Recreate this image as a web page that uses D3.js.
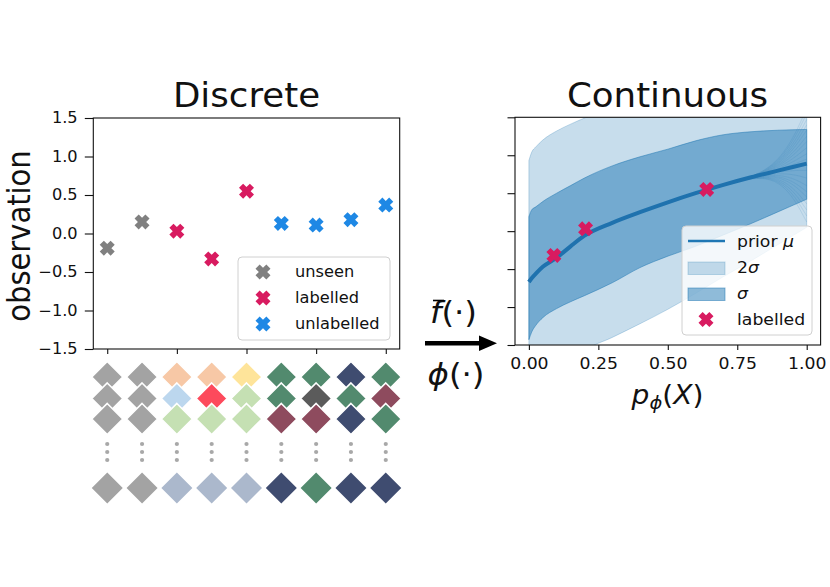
<!DOCTYPE html>
<html>
<head>
<meta charset="utf-8">
<script src="https://cdn.jsdelivr.net/npm/d3@7"></script>
<style>
  body { margin: 0; background: #fff; }
  text { font-family: 'DejaVu Sans', sans-serif; fill: #111; }
</style>
</head>
<body>
<script>
// ---------- data ----------
const categories = [0, 1, 2, 3, 4, 5, 6, 7, 8];
const observations = [-0.19, 0.15, 0.03, -0.33, 0.55, 0.13, 0.11, 0.18, 0.37];
const groups = ['unseen', 'unseen', 'labelled', 'labelled', 'labelled',
  'unlabelled', 'unlabelled', 'unlabelled', 'unlabelled'];
const groupNames = ['unseen', 'labelled', 'unlabelled'];
const groupColors = { unseen: '#808080', labelled: '#d81b60', unlabelled: '#1e88e5' };
const yTicks = [-1.5, -1.0, -0.5, 0.0, 0.5, 1.0, 1.5];
const xTicksLeft = [0, 2, 4, 6, 8];

// molecule "diamond" stacks under each category
const diamondRow1 = ['#a3a3a3', '#a3a3a3', '#f7c8a6', '#f7c8a6', '#fee49a', '#528a6e', '#528a6e', '#3f4c70', '#528a6e'];
const diamondRow2 = ['#a3a3a3', '#a3a3a3', '#bcd7ee', '#fd4a5c', '#c5e0b3', '#528a6e', '#5b5b5b', '#528a6e', '#8e4b5e'];
const diamondRow3 = ['#a3a3a3', '#a3a3a3', '#c5e0b3', '#c5e0b3', '#c5e0b3', '#8e4b5e', '#8e4b5e', '#3f4c70', '#528a6e'];
const diamondLast = ['#a3a3a3', '#a3a3a3', '#abb8cc', '#abb8cc', '#abb8cc', '#3f4c70', '#528a6e', '#3f4c70', '#3f4c70'];

// continuous panel
const px = [0, 0.01, 0.025, 0.05, 0.1, 0.15, 0.2, 0.3, 0.4, 0.5, 0.6, 0.7, 0.8, 0.9, 1.0];
const priorMean = [-0.67, -0.62, -0.56, -0.47, -0.35, -0.2, -0.06, 0.11, 0.25, 0.38, 0.5, 0.61, 0.71, 0.8, 0.89];
const sigmaUpper = [0.19, 0.28, 0.32, 0.39, 0.5, 0.6, 0.7, 0.86, 0.98, 1.08, 1.19, 1.27, 1.31, 1.33, 1.34];
const sigmaLower = [-1.43, -1.33, -1.24, -1.14, -1.02, -0.93, -0.85, -0.68, -0.48, -0.33, -0.2, -0.05, 0.1, 0.26, 0.42];
const twoSigmaUpper = [0.93, 1.04, 1.11, 1.2, 1.32, 1.41, 1.49, 1.62, 1.71, 1.8, 1.86, 1.9, 1.94, 1.97, 2.0];
const twoSigmaLower = [-2.3, -2.26, -2.2, -2.1, -1.9, -1.75, -1.58, -1.4, -1.22, -1.03, -0.82, -0.6, -0.39, -0.17, 0.05];
const labelledX = [0.09, 0.204, 0.64];
const labelledY = [-0.32, 0.03, 0.55];
const fanEnds = [1.62, 1.55, 1.47, 1.4, 1.33, 1.25, 1.18, 1.1, 1.02, 0.95, 0.8, 0.7, 0.6, 0.52, 0.45, 0.36, 0.28, 0.2, 0.12];
const xTicksRight = [0, 0.25, 0.5, 0.75, 1.0];

const SX = 1.08; // reference is a little stretched sideways
const blue = '#1f77b4';

const svg = d3.select('body').append('svg').attr('width', 830).attr('height', 587);

function label(g, x, y, size, anchor) {
  return g.append('text')
    .attr('transform', `translate(${x},${y}) scale(${SX},1)`)
    .attr('text-anchor', anchor)
    .style('font-size', size + 'px');
}

// filled "X" marker like matplotlib's
function xMarker(r) {
  const L = r * Math.SQRT2 / 1.38, a = 0.38 * L;
  const pts = [[a, L], [a, a], [L, a], [L, -a], [a, -a], [a, -L], [-a, -L], [-a, -a], [-L, -a], [-L, a], [-a, a], [-a, L]];
  return 'M' + pts.map(([x, y]) => [(x - y) / Math.SQRT2, (x + y) / Math.SQRT2].join(',')).join('L') + 'Z';
}
const mk = xMarker(7.5);

////////////////////////
///// LEFT PANEL ///////
////////////////////////

const xL = d3.scaleLinear().domain([-0.4, 8.4]).range([93.3, 399.7]);
const yL = d3.scaleLinear().domain([-1.5, 1.5]).range([349, 118]);

const left = svg.append('g');

left.append('g')
  .attr('transform', `translate(${xL.range()[0]},0)`)
  .call(d3.axisLeft(yL).tickValues(yTicks).tickSize(8.5).tickPadding(6).tickFormat(d3.format('.1f')))
  .call(g => g.select('.domain').remove())
  .call(g => g.selectAll('line').attr('stroke', '#111').attr('stroke-width', 1.1))
  .call(g => g.selectAll('text').attr('font-family', null).style('font-size', '15px')
    .attr('transform', `scale(${SX},1)`));

left.append('g')
  .attr('transform', `translate(0,${yL.range()[0]})`)
  .call(d3.axisBottom(xL).tickValues(xTicksLeft).tickSize(5).tickFormat(''))
  .call(g => g.select('.domain').remove())
  .call(g => g.selectAll('line').attr('stroke', '#111').attr('stroke-width', 1.1));

left.append('rect')
  .attr('x', xL.range()[0]).attr('y', yL.range()[1])
  .attr('width', xL.range()[1] - xL.range()[0]).attr('height', yL.range()[0] - yL.range()[1])
  .attr('fill', 'none').attr('stroke', '#111').attr('stroke-width', 1.1);

left.selectAll('path.obs')
  .data(categories)
  .enter()
  .append('path')
  .attr('class', 'obs')
  .attr('d', mk)
  .attr('transform', (i) => `translate(${xL(i)},${yL(observations[i])})`)
  .attr('fill', (i) => groupColors[groups[i]]);

// legend
left.append('rect')
  .attr('x', 238).attr('y', 257).attr('width', 152).attr('height', 83)
  .attr('rx', 4).attr('fill', '#fff').attr('fill-opacity', 0.8)
  .attr('stroke', '#d0d0d0');
groupNames.forEach((name, i) => {
  const yy = 272 + i * 26;
  left.append('path').attr('d', mk).attr('transform', `translate(263,${yy})`)
    .attr('fill', groupColors[name]);
  label(left, 295, yy + 5, 15, 'start').text(name);
});

label(left, 246.5, 107, 33, 'middle').text('Discrete');

left.append('text')
  .attr('transform', `translate(30,236) scale(${SX},1) rotate(-90)`)
  .attr('text-anchor', 'middle')
  .style('font-size', '29px')
  .text('observation');

// diamonds under the axis
const diamond = (r) => `M0,${-r}L${r},0L0,${r}L${-r},0Z`;
const rowY = [377, 398.5, 419];
[diamondRow1, diamondRow2, diamondRow3].forEach((row, k) => {
  left.selectAll('path.d' + k)
    .data(categories)
    .enter()
    .append('path')
    .attr('class', 'd' + k)
    .attr('d', diamond(15.5))
    .attr('transform', (i) => `translate(${xL(i)},${rowY[k]})`)
    .attr('fill', (i) => row[i])
    .attr('stroke', '#fff').attr('stroke-width', 1.6);
});
left.selectAll('path.dl')
  .data(categories)
  .enter()
  .append('path')
  .attr('class', 'dl')
  .attr('d', diamond(15.5))
  .attr('transform', (i) => `translate(${xL(i)},488)`)
  .attr('fill', (i) => diamondLast[i]);

[444, 452, 460].forEach((yy) => {
  left.selectAll(null)
    .data(categories)
    .enter()
    .append('circle')
    .attr('cx', (i) => xL(i)).attr('cy', yy).attr('r', 2.1)
    .attr('fill', '#a8a8a8');
});

////////////////////////
///// ARROW ////////////
////////////////////////

svg.append('path')
  .attr('d', 'M425,341L479,341L479,335.5L497,343.2L479,351L479,345.4L425,345.4Z')
  .attr('fill', '#000');

const fl = label(svg, 430, 323, 30, 'start');
fl.append('tspan').style('font-style', 'italic').text('f');
fl.append('tspan').text('(·)');
svg.append('line').attr('x1', 433).attr('x2', 444).attr('y1', 300.5).attr('y2', 300.5)
  .attr('stroke', '#000').attr('stroke-width', 1.6);

const pl = label(svg, 456, 385, 30, 'middle');
pl.append('tspan').style('font-style', 'italic').text('ϕ');
pl.append('tspan').text('(·)');

////////////////////////
///// RIGHT PANEL //////
////////////////////////

const xR = d3.scaleLinear().domain([-0.05, 1.05]).range([515, 820.6]);
const yR = d3.scaleLinear().domain([-1.5, 1.5]).range([345, 117.3]);
const right = svg.append('g');

right.append('clipPath').attr('id', 'clipR')
  .append('rect')
  .attr('x', xR.range()[0]).attr('y', yR.range()[1])
  .attr('width', xR.range()[1] - xR.range()[0]).attr('height', yR.range()[0] - yR.range()[1]);

const plot = right.append('g').attr('clip-path', 'url(#clipR)');

const band = (lo, hi) => d3.area()
  .x((d, i) => xR(px[i]))
  .y0((d, i) => yR(lo[i]))
  .y1((d, i) => yR(hi[i]))
  .curve(d3.curveMonotoneX)(px);

plot.append('path').attr('d', band(twoSigmaLower, twoSigmaUpper))
  .attr('fill', blue).attr('fill-opacity', 0.25)
  .attr('stroke', blue).attr('stroke-opacity', 0.25).attr('stroke-width', 1);
plot.append('path').attr('d', band(sigmaLower, sigmaUpper))
  .attr('fill', blue).attr('fill-opacity', 0.5)
  .attr('stroke', blue).attr('stroke-opacity', 0.5).attr('stroke-width', 1);

// thin sample curves fanning out towards p = 1
const meanAt = (x) => priorMean[px.indexOf(x)];
const fanLine = d3.line().x((d) => xR(d[0])).y((d) => yR(d[1])).curve(d3.curveBasis);
plot.selectAll('path.fan')
  .data(fanEnds)
  .enter()
  .append('path')
  .attr('class', 'fan')
  .attr('d', (e) => fanLine([[0.6, meanAt(0.6)], [0.7, meanAt(0.7)], [0.9, meanAt(0.9)], [1.0, e]]))
  .attr('fill', 'none').attr('stroke', blue).attr('stroke-opacity', 0.22).attr('stroke-width', 0.6);

plot.append('path')
  .attr('d', d3.line().x((d, i) => xR(px[i])).y((d, i) => yR(priorMean[i])).curve(d3.curveMonotoneX)(px))
  .attr('fill', 'none').attr('stroke', '#1f72ae').attr('stroke-width', 4);

plot.selectAll('path.lab')
  .data(labelledX)
  .enter()
  .append('path')
  .attr('class', 'lab')
  .attr('d', mk)
  .attr('transform', (d, i) => `translate(${xR(d)},${yR(labelledY[i])})`)
  .attr('fill', groupColors.labelled);

right.append('g')
  .attr('transform', `translate(${xR.range()[0]},0)`)
  .call(d3.axisLeft(yR).tickValues(yTicks).tickSize(7.5).tickFormat(''))
  .call(g => g.select('.domain').remove())
  .call(g => g.selectAll('line').attr('stroke', '#111').attr('stroke-width', 1.1));

right.append('g')
  .attr('transform', `translate(0,${yR.range()[0]})`)
  .call(d3.axisBottom(xR).tickValues(xTicksRight).tickSize(5).tickPadding(8).tickFormat(d3.format('.2f')))
  .call(g => g.select('.domain').remove())
  .call(g => g.selectAll('line').attr('stroke', '#111').attr('stroke-width', 1.1))
  .call(g => g.selectAll('text').attr('font-family', null).style('font-size', '16px')
    .attr('transform', `scale(${SX},1)`));

right.append('rect')
  .attr('x', xR.range()[0]).attr('y', yR.range()[1])
  .attr('width', xR.range()[1] - xR.range()[0]).attr('height', yR.range()[0] - yR.range()[1])
  .attr('fill', 'none').attr('stroke', '#111').attr('stroke-width', 1.1);

// legend
right.append('rect')
  .attr('x', 682).attr('y', 226).attr('width', 130).attr('height', 109)
  .attr('rx', 4).attr('fill', '#fff').attr('fill-opacity', 0.8)
  .attr('stroke', '#d0d0d0');
right.append('line').attr('x1', 688).attr('x2', 725).attr('y1', 241).attr('y2', 241)
  .attr('stroke', blue).attr('stroke-width', 2.6);
right.append('rect').attr('x', 688).attr('y', 262).attr('width', 37).attr('height', 12.5)
  .attr('fill', blue).attr('fill-opacity', 0.25).attr('stroke', blue).attr('stroke-opacity', 0.25);
right.append('rect').attr('x', 688).attr('y', 288).attr('width', 37).attr('height', 12.5)
  .attr('fill', blue).attr('fill-opacity', 0.5).attr('stroke', blue).attr('stroke-opacity', 0.5);
right.append('path').attr('d', mk).attr('transform', 'translate(706,319.5)')
  .attr('fill', groupColors.labelled);

const l1 = label(right, 737, 246.5, 16, 'start');
l1.append('tspan').text('prior ');
l1.append('tspan').style('font-style', 'italic').text('μ');
const l2 = label(right, 737, 273, 16, 'start');
l2.append('tspan').text('2');
l2.append('tspan').style('font-style', 'italic').text('σ');
label(right, 737, 299, 16, 'start').style('font-style', 'italic').text('σ');
label(right, 737, 325, 16, 'start').text('labelled');

label(right, 667.5, 107, 33, 'middle').text('Continuous');

const xl = label(right, 667.5, 404, 26, 'middle');
xl.append('tspan').style('font-style', 'italic').text('p');
xl.append('tspan').style('font-style', 'italic').style('font-size', '18px').attr('dy', 5).text('ϕ');
xl.append('tspan').attr('dy', -5).text('(');
xl.append('tspan').style('font-style', 'italic').text('X');
xl.append('tspan').text(')');
</script>
</body>
</html>
